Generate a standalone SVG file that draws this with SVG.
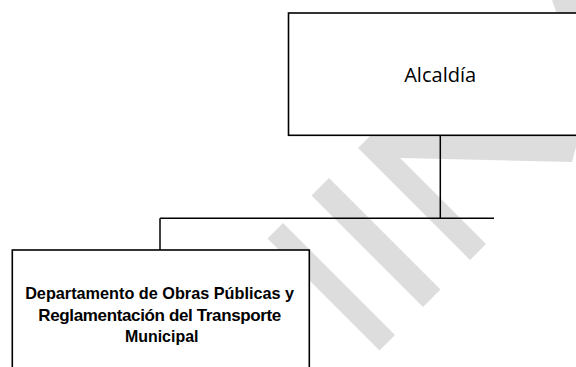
<svg xmlns="http://www.w3.org/2000/svg" width="576" height="367" viewBox="0 0 576 367">
<style>
.wm{fill:#dddddd}
.box{fill:#ffffff;stroke:#000000;stroke-width:1.6}
.conn{fill:none;stroke:#000000;stroke-width:1.5}
.t1{font-family:"Open Sans","Liberation Sans",Arial,sans-serif;font-size:20px;fill:#000000}
.t2{font-family:"Liberation Sans",Arial,sans-serif;font-weight:bold;font-size:17px;fill:#000000}
</style>
<rect width="576" height="367" fill="#ffffff"/>
<g id="watermark">
<polygon class="wm" points="267.5,238.5 283,223 395,335 379.5,350.5"/>
<polygon class="wm" points="311.5,195.5 329,178 440.5,289.5 423,307"/>
<polygon class="wm" points="358,148 375,131 576,131 576,147 572,162 400,158 486,244 470,260"/>
<polygon class="wm" points="552,0 557,14 576,14 576,0"/>
</g>
<g id="connectors">
<path class="conn" d="M440.3 135.3 V218.3 M160 218.3 H494 M160 218.3 V250"/>
</g>
<g id="alcaldia">
<rect class="box" x="288.5" y="13" width="304" height="122.3"/>
<text class="t1" x="440.2" y="81.7" text-anchor="middle" textLength="72" lengthAdjust="spacingAndGlyphs">Alcaldía</text>
</g>
<g id="departamento">
<rect class="box" x="12.3" y="250" width="297" height="130"/>
<text class="t2" text-anchor="middle">
<tspan x="162" y="299" textLength="269" lengthAdjust="spacingAndGlyphs">Departamento de Obras Públicas y</tspan>
<tspan x="162" y="320.5" textLength="243" lengthAdjust="spacing">Reglamentación del Transporte</tspan>
<tspan x="161.7" y="342" textLength="73.5" lengthAdjust="spacingAndGlyphs">Municipal</tspan>
</text>
</g>
</svg>
